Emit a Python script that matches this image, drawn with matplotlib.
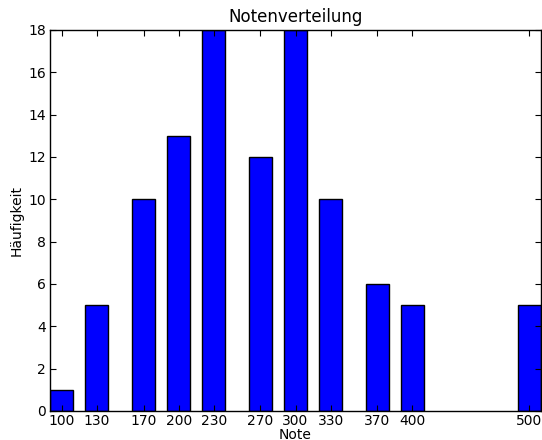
import matplotlib
matplotlib.use("Agg")
import matplotlib.pyplot as plt

notes = [100, 130, 170, 200, 230, 270, 300, 330, 370, 400, 500]
counts = [1, 5, 10, 13, 18, 12, 18, 10, 6, 5, 5]
tick_labels = [str(n) for n in notes]

fig = plt.figure(figsize=(5.42, 4.4), dpi=100)
ax = fig.add_axes([0.0923, 0.066, 0.906, 0.866])

ax.bar(notes, counts, width=20, align="center", color="blue",
       edgecolor="black", linewidth=1.0)

ax.set_xlim(90, 510)
ax.set_ylim(0, 18)
ax.set_xticks(notes)
ax.set_xticklabels(tick_labels)
ax.set_yticks(range(0, 19, 2))
ax.tick_params(direction="in", top=True, right=True, labelsize=10,
               length=4, width=0.8, pad=3)
ax.tick_params(axis="x", pad=2)
for s in ax.spines.values():
    s.set_linewidth(1.0)

ax.set_title("Notenverteilung", fontsize=12)
ax.set_xlabel("Note", fontsize=10, labelpad=0)
ax.set_ylabel("Häufigkeit", fontsize=10, labelpad=3)

fig.savefig("out.png", dpi=100)
